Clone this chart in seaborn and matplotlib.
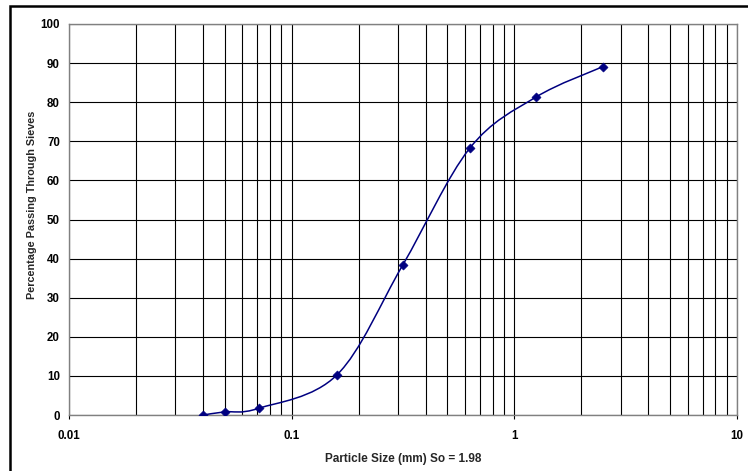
import numpy as np
import pandas as pd
import seaborn as sns
from matplotlib import pyplot as plt
from matplotlib import font_manager as fm
from matplotlib.path import Path
from matplotlib.patches import PathPatch, Rectangle
from matplotlib.ticker import FixedLocator, LogLocator, NullFormatter

# sieve analysis data
sizes = [0.04, 0.05, 0.071, 0.16, 0.315, 0.63, 1.25, 2.5]
passing = [0.0, 0.8, 1.7, 10.3, 38.3, 68.2, 81.3, 89.1]
x_ticks = [0.01, 0.1, 1, 10]
x_tick_labels = ["0.01", "0.1", "1", "10"]
y_ticks = list(range(0, 101, 10))

df = pd.DataFrame({"size": sizes, "passing": passing})

sns.set_style("white")
plt.rcParams["font.family"] = ["Liberation Sans", "DejaVu Sans"]

# pick the regular-width bold Arial-like face (not the Narrow one)
bold_file = None
for f in fm.fontManager.ttflist:
    if f.fname.endswith("LiberationSans-Bold.ttf"):
        bold_file = f.fname
        break

def bold(size):
    if bold_file:
        return fm.FontProperties(fname=bold_file, size=size)
    return fm.FontProperties(family="DejaVu Sans", weight="bold", size=size - 1)

fig = plt.figure(figsize=(7.48, 4.71), dpi=100)
ax = fig.add_axes([69 / 748, 56 / 471, 668 / 748, 391 / 471])
ax.set_xscale("log")
ax.set_xlim(0.01, 10)
ax.set_ylim(0, 100)

# Excel-style smoothed line: cubic Bezier segments built in axes space
u = (np.log10(df["size"].values) + 2) / 3
v = df["passing"].values / 100
pts = np.column_stack([u, v])
verts = [pts[0]]
codes = [Path.MOVETO]
n = len(pts)
for i in range(n - 1):
    p0 = pts[i - 1] if i > 0 else pts[i]
    p1, p2 = pts[i], pts[i + 1]
    p3 = pts[i + 2] if i + 2 < n else pts[i + 1]
    c1 = p1 + (p2 - p0) / 6
    c2 = p2 - (p3 - p1) / 6
    verts += [c1, c2, p2]
    codes += [Path.CURVE4] * 3
verts = np.array(verts)
data_verts = np.column_stack([10 ** (verts[:, 0] * 3 - 2), verts[:, 1] * 100])
ax.add_patch(PathPatch(Path(data_verts, codes), fill=False, edgecolor="#000080",
                       linewidth=1.1, zorder=3))

sns.scatterplot(data=df, x="size", y="passing", ax=ax, marker="D", s=22,
                color="#000080", edgecolor="#000080", zorder=4, legend=False)

ax.xaxis.set_major_locator(FixedLocator(x_ticks))
ax.xaxis.set_minor_locator(LogLocator(base=10, subs=np.arange(2, 10)))
ax.xaxis.set_minor_formatter(NullFormatter())
ax.set_xticklabels(x_tick_labels)
ax.set_yticks(y_ticks)
ax.grid(True, which="both", axis="x", color="black", linewidth=0.8)
ax.grid(True, which="major", axis="y", color="black", linewidth=0.8)
ax.tick_params(axis="x", which="major", length=3, width=0.8,
               colors="black", direction="out", pad=7.5)
ax.tick_params(axis="x", which="minor", length=0)
ax.tick_params(axis="y", which="major", length=0, pad=6.5, colors="black")
for lbl in ax.get_xticklabels() + ax.get_yticklabels():
    lbl.set_fontproperties(bold(8.3))
ax.xaxis.set_ticks_position("bottom")
for sp in ax.spines.values():
    sp.set_color("#808080")
    sp.set_linewidth(1.0)
    sp.set_visible(True)

ax.set_xlabel("Particle Size (mm) So = 1.98", fontproperties=bold(8.5))
ax.set_ylabel("Percentage Passing Through Sieves", fontproperties=bold(7.8))
ax.xaxis.set_label_coords(0.5, -0.097)
ax.yaxis.set_label_coords(-32 / 668, 0.537)

# chart frame
fig.patches.append(Rectangle((10 / 748, -0.1), 1.2, 1 - 6 / 471 + 0.1,
                             transform=fig.transFigure, fill=False,
                             edgecolor="black", linewidth=1.8))

fig.savefig("out.png", dpi=100)
